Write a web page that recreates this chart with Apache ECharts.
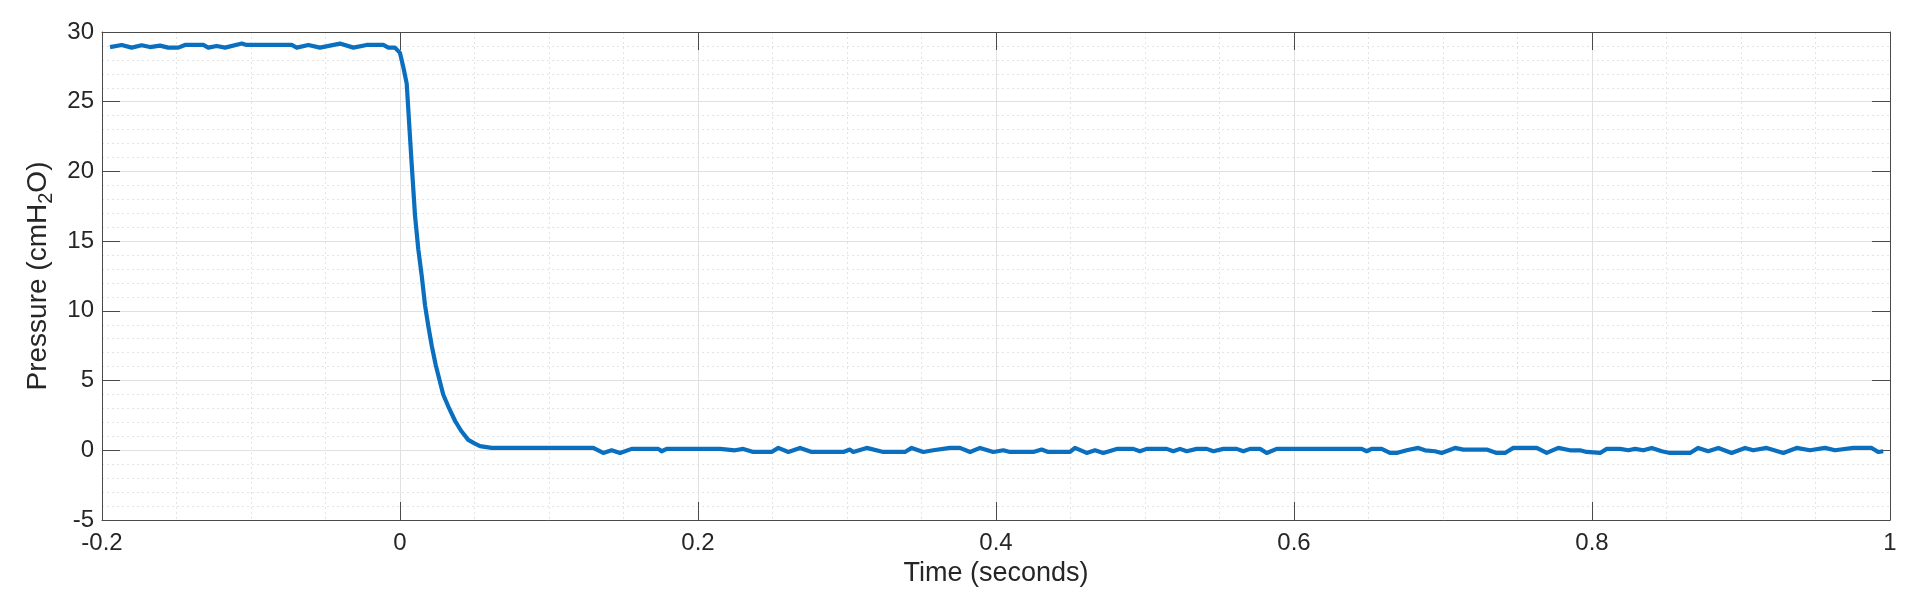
<!DOCTYPE html>
<html lang="en">
<head>
    <meta charset="UTF-8">
    <title>Pressure release</title>
    <script src="https://cdn.jsdelivr.net/npm/echarts@6/dist/echarts.min.js"></script>
    <style>
        html, body {margin: 0; padding: 0; background: #fff;}
        #main {width: 1920px; height: 612px;}
    </style>
</head>
<body>
<div id="main"></div>
<script type="text/javascript">
    // vertices of the trace (time in s, pressure in cmH2O)
    var plateauTime = [-0.1946, -0.1868, -0.1801, -0.1734, -0.1678, -0.1611, -0.1555, -0.1488, -0.1443, -0.1320,
        -0.1287, -0.1230, -0.1174, -0.1062, -0.1029, -0.0727, -0.0693, -0.0615, -0.0537, -0.0403,
        -0.0313, -0.0224, -0.0112, -0.0078, -0.0034];
    var plateauP = [28.92, 29.07, 28.88, 29.05, 28.92, 29.02, 28.88, 28.88, 29.07, 29.07,
        28.88, 29.00, 28.88, 29.17, 29.07, 29.07, 28.88, 29.07, 28.88, 29.17,
        28.88, 29.07, 29.07, 28.88, 28.88];

    var dropTime = [0.0000, 0.0022, 0.0045, 0.0078, 0.0101, 0.0123, 0.0146, 0.0168, 0.0190, 0.0213,
        0.0240, 0.0290, 0.0330, 0.0370, 0.0410, 0.0458, 0.0500, 0.0537];
    var dropP = [28.5, 27.5, 26.3, 20.6, 16.8, 14.4, 12.5, 10.4, 8.9, 7.5,
        6.1, 4.0, 3.0, 2.1, 1.4, 0.75, 0.5, 0.3];

    var baseTime = [0.0615, 0.1297, 0.1364, 0.1420, 0.1477, 0.1555, 0.1734, 0.1756, 0.1790, 0.2148,
        0.2248, 0.2304, 0.2371, 0.2494, 0.2539, 0.2606, 0.2685, 0.2763, 0.2975, 0.3020,
        0.3042, 0.3132, 0.3244, 0.3389, 0.3434, 0.3512, 0.3579, 0.3691, 0.3758, 0.3826,
        0.3893, 0.3982, 0.4049, 0.4094, 0.4250, 0.4306, 0.4351, 0.4497, 0.4530, 0.4609,
        0.4664, 0.4720, 0.4810, 0.4921, 0.4966, 0.5011, 0.5145, 0.5190, 0.5235, 0.5280,
        0.5347, 0.5414, 0.5459, 0.5526, 0.5615, 0.5660, 0.5705, 0.5772, 0.5817, 0.5884,
        0.6454, 0.6488, 0.6521, 0.6588, 0.6644, 0.6689, 0.6756, 0.6834, 0.6879, 0.6946,
        0.6991, 0.7081, 0.7136, 0.7293, 0.7360, 0.7416, 0.7472, 0.7629, 0.7696, 0.7774,
        0.7852, 0.7919, 0.7964, 0.8054, 0.8099, 0.8188, 0.8244, 0.8289, 0.8345, 0.8401,
        0.8468, 0.8523, 0.8658, 0.8713, 0.8780, 0.8848, 0.8937, 0.9027, 0.9082, 0.9172,
        0.9284, 0.9373, 0.9463, 0.9564, 0.9631, 0.9754, 0.9877, 0.9921, 0.9955];
    var baseP = [0.17, 0.17, -0.19, 0.00, -0.19, 0.10, 0.10, -0.07, 0.10, 0.10,
        0.00, 0.10, -0.12, -0.12, 0.17, -0.12, 0.17, -0.12, -0.12, 0.05,
        -0.12, 0.17, -0.12, -0.12, 0.17, -0.12, 0.00, 0.17, 0.17, -0.12,
        0.17, -0.12, 0.00, -0.12, -0.12, 0.05, -0.12, -0.12, 0.17, -0.19,
        0.00, -0.19, 0.10, 0.10, -0.07, 0.10, 0.10, -0.07, 0.10, -0.07,
        0.10, 0.10, -0.07, 0.10, 0.10, -0.07, 0.10, 0.10, -0.19, 0.10,
        0.10, -0.07, 0.10, 0.10, -0.19, -0.19, 0.00, 0.17, 0.00, -0.07,
        -0.19, 0.17, 0.05, 0.05, -0.19, -0.19, 0.17, 0.17, -0.19, 0.17,
        0.00, 0.00, -0.12, -0.19, 0.10, 0.10, 0.00, 0.10, 0.00, 0.17,
        -0.07, -0.19, -0.19, 0.17, -0.07, 0.17, -0.19, 0.17, 0.00, 0.17,
        -0.19, 0.17, 0.00, 0.17, 0.00, 0.17, 0.17, -0.12, -0.07];

    var xTicks = {min: -0.2, max: 1, step: 0.2};
    var yTicks = {min: -5, max: 30, step: 5};

    var times = plateauTime.concat(dropTime, baseTime);
    var press = plateauP.concat(dropP, baseP);
    var trace = [];
    for (var i = 0; i < times.length; i++) {
        trace.push([times[i], press[i]]);
    }

    var ink = '#262626';
    var frame = '#4a4a4a';
    var font = 'Arial, "Liberation Sans", Helvetica, sans-serif';

    function makeX(pos, main) {
        return {
            type: 'value', position: pos,
            min: xTicks.min, max: xTicks.max, interval: xTicks.step,
            name: main ? 'Time (seconds)' : '',
            nameLocation: 'middle', nameGap: 39,
            nameTextStyle: {color: ink, fontSize: 27, fontFamily: font},
            axisLine: {show: true, onZero: false, lineStyle: {color: frame, width: 1}},
            axisTick: {show: true, inside: true, length: 18, lineStyle: {color: frame}},
            axisLabel: {show: main, margin: 11, color: ink, fontSize: 24, fontFamily: font},
            splitLine: {show: main, lineStyle: {color: '#e0e0e0', width: 1}},
            minorTick: {show: false, splitNumber: 4},
            minorSplitLine: {show: main, lineStyle: {color: '#e4e4e4', width: 1, type: [2, 3]}}
        };
    }

    function makeY(pos, main) {
        return {
            type: 'value', position: pos,
            min: yTicks.min, max: yTicks.max, interval: yTicks.step,
            name: main ? '{a|Pressure (cmH}{s|2}{a|O)}' : '',
            nameLocation: 'middle', nameGap: 46,
            nameTextStyle: {
                color: ink, fontFamily: font,
                rich: {
                    a: {fontSize: 28, color: ink, fontFamily: font},
                    s: {fontSize: 20, color: ink, fontFamily: font, padding: [15, 0, 0, 0]}
                }
            },
            axisLine: {show: true, onZero: false, lineStyle: {color: frame, width: 1}},
            axisTick: {show: true, inside: true, length: 18, lineStyle: {color: frame}},
            axisLabel: {show: main, margin: 8, color: ink, fontSize: 24, fontFamily: font},
            splitLine: {show: main, lineStyle: {color: '#e0e0e0', width: 1}},
            minorTick: {show: false, splitNumber: 5},
            minorSplitLine: {show: main, lineStyle: {color: '#e4e4e4', width: 1, type: [2, 3]}}
        };
    }

    var myChart = echarts.init(document.getElementById('main'));
    var option = {
        animation: false,
        backgroundColor: '#ffffff',
        grid: {left: 102, right: 30, top: 32, bottom: 92, containLabel: false},
        xAxis: [makeX('bottom', true), makeX('top', false)],
        yAxis: [makeY('left', true), makeY('right', false)],
        series: [{
            name: 'Pressure',
            type: 'line',
            data: trace,
            showSymbol: false,
            symbol: 'none',
            lineStyle: {color: '#0b6fc0', width: 4.2, join: 'round'},
            itemStyle: {color: '#0b6fc0'}
        }]
    };
    myChart.setOption(option);
</script>
</body>
</html>
